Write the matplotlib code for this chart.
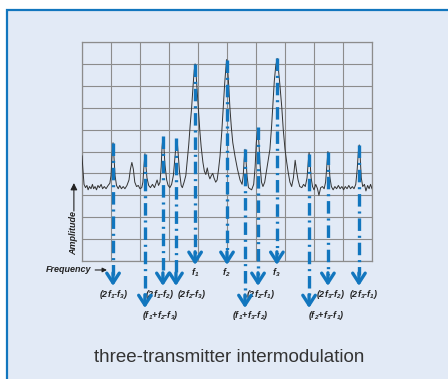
import matplotlib.pyplot as plt
from matplotlib.patches import Rectangle

plt.rcParams['font.family'] = ['Liberation Sans', 'DejaVu Sans']
plt.rcParams['mathtext.fontset'] = 'custom'
plt.rcParams['mathtext.rm'] = 'Liberation Sans:bold:italic'
plt.rcParams['mathtext.it'] = 'Liberation Sans:bold:italic'
plt.rcParams['lines.scale_dashes'] = False

BG = '#e2eaf6'
BLUE = '#1276be'
GRID = '#8c8c8c'

# spectrum analyser trace (10 x 10 divisions)
trace_x = [0.00, 0.03, 0.07, 0.12, 0.17, 0.21, 0.26, 0.31, 0.36, 0.40, 0.45, 0.50, 0.55,
           0.60, 0.66, 0.71, 0.77, 0.83, 0.90, 0.96, 1.00, 1.04, 1.07, 1.10, 1.14, 1.19,
           1.25, 1.30, 1.36, 1.42, 1.48, 1.55, 1.62, 1.67, 1.72, 1.77, 1.82, 1.88, 1.94,
           2.00, 2.06, 2.10, 2.14, 2.17, 2.20, 2.24, 2.30, 2.36, 2.43, 2.50, 2.55, 2.59,
           2.64, 2.69, 2.73, 2.76, 2.79, 2.82, 2.86, 2.92, 2.97, 3.03, 3.09, 3.15, 3.21,
           3.25, 3.28, 3.31, 3.36, 3.42, 3.46, 3.52, 3.58, 3.63, 3.68, 3.73, 3.78, 3.83,
           3.87, 3.90, 3.93, 3.97, 4.01, 4.06, 4.11, 4.17, 4.22, 4.27, 4.32, 4.37, 4.41,
           4.46, 4.51, 4.55, 4.61, 4.66, 4.71, 4.76, 4.82, 4.87, 4.92, 4.96, 4.99, 5.02,
           5.06, 5.10, 5.15, 5.20, 5.28, 5.36, 5.45, 5.52, 5.56, 5.59, 5.62, 5.65, 5.69,
           5.74, 5.79, 5.85, 5.92, 5.97, 6.01, 6.06, 6.10, 6.14, 6.19, 6.24, 6.30, 6.36,
           6.42, 6.48, 6.54, 6.59, 6.63, 6.68, 6.73, 6.77, 6.82, 6.89, 6.94, 7.00, 7.06,
           7.11, 7.17, 7.23, 7.29, 7.35, 7.40, 7.45, 7.51, 7.58, 7.64, 7.70, 7.76, 7.80,
           7.83, 7.86, 7.90, 7.95, 8.00, 8.06, 8.12, 8.17, 8.23, 8.29, 8.35, 8.40, 8.44,
           8.48, 8.51, 8.55, 8.60, 8.66, 8.72, 8.78, 8.84, 8.90, 8.96, 9.02, 9.08, 9.14,
           9.20, 9.26, 9.32, 9.38, 9.44, 9.49, 9.53, 9.56, 9.59, 9.63, 9.68, 9.74, 9.79,
           9.85, 9.90, 9.95, 10.00]
trace_y = [4.80, 4.20, 3.50, 3.35, 3.45, 3.25, 3.40, 3.30, 3.50, 3.30, 3.40, 3.25, 3.45,
           3.35, 3.50, 3.30, 3.40, 3.30, 3.45, 3.55, 3.90, 4.90, 5.40, 4.80, 3.90, 3.45,
           3.30, 3.45, 3.30, 3.40, 3.30, 3.45, 3.70, 4.20, 4.50, 4.20, 3.60, 3.40, 3.45,
           3.30, 3.35, 3.60, 4.40, 4.90, 4.40, 3.80, 3.45, 3.35, 3.50, 3.35, 3.55, 3.70,
           3.45, 3.60, 4.30, 5.20, 5.65, 5.30, 4.40, 3.70, 3.45, 3.35, 3.50, 3.90, 4.80,
           5.50, 5.55, 5.00, 4.10, 3.45, 3.35, 3.60, 3.90, 4.60, 5.30, 6.20, 7.00, 8.00,
           8.70, 9.00, 8.60, 7.80, 7.00, 6.00, 5.20, 4.50, 4.10, 3.95, 4.25, 3.90, 3.75,
           3.90, 4.00, 3.80, 3.60, 3.70, 4.20, 4.80, 5.90, 7.00, 8.10, 8.80, 9.20, 8.80,
           8.00, 7.00, 6.10, 5.40, 4.75, 4.20, 3.70, 3.50, 3.90, 4.60, 5.10, 4.70, 3.90,
           3.35, 3.30, 3.25, 3.50, 4.30, 5.40, 6.05, 5.40, 4.40, 3.60, 3.40, 3.60, 4.10,
           4.60, 5.10, 6.20, 7.30, 8.20, 8.90, 9.25, 8.80, 8.10, 7.00, 6.00, 5.10, 4.50,
           4.05, 3.60, 3.40, 3.80, 4.60, 4.10, 3.70, 3.40, 3.35, 3.50, 3.40, 3.80, 4.50,
           4.95, 4.60, 3.80, 3.40, 3.25, 3.50, 3.30, 3.00, 3.35, 3.40, 3.30, 3.60, 4.30,
           5.00, 4.60, 3.80, 3.40, 3.25, 3.40, 3.30, 3.45, 3.30, 3.40, 3.25, 3.40, 3.30,
           3.45, 3.30, 3.40, 3.30, 3.50, 4.20, 5.00, 5.30, 4.80, 3.80, 3.40, 3.50, 3.20,
           3.45, 3.30, 3.50, 3.30]

# marked products: where the peak is, how far down the arrow goes, where the label sits
prod_labels = ['(2f$_1$-f$_3$)', '(f$_1$+f$_2$-f$_3$)', '(2f$_1$-f$_2$)', '(2f$_2$-f$_3$)',
               'f$_1$', 'f$_2$', '(f$_1$+f$_3$-f$_2$)', '(2f$_2$-f$_1$)', 'f$_3$',
               '(f$_2$+f$_3$-f$_1$)', '(2f$_3$-f$_2$)', '(2f$_3$-f$_1$)']
prod_x = [1.07, 2.17, 2.79, 3.24, 3.90, 5.00, 5.62, 6.07, 6.72, 7.83, 8.48, 9.55]
prod_top = [5.4, 4.9, 5.7, 5.6, 9.0, 9.2, 5.1, 6.1, 9.25, 4.9, 5.0, 5.3]
prod_end = [-1.14, -2.15, -1.14, -1.14, -0.18, -0.18, -2.15, -1.14, -0.18, -2.15, -1.14, -1.14]
label_x = [1.10, 2.69, 2.69, 3.78, 3.90, 4.99, 5.79, 6.17, 6.71, 8.41, 8.57, 9.71]
label_y = [-1.51, -2.51, -1.51, -1.51, -0.55, -0.55, -2.51, -1.51, -0.55, -2.51, -1.51, -1.51]

fig = plt.figure(figsize=(4.48, 3.79), dpi=100)
frame = Rectangle((7 / 448, -0.2), 1.2, 1.2 - 10 / 379, transform=fig.transFigure,
                  facecolor=BG, edgecolor=BLUE, linewidth=1.6, zorder=-5)
fig.add_artist(frame)

ax = fig.add_axes([82 / 448, 1 - 261 / 379, 290 / 448, 219 / 379])
ax.set_zorder(2)
ax.set_facecolor('none')
ax.set_xlim(0, 10)
ax.set_ylim(0, 10)
ax.set_xticks(range(11))
ax.set_yticks(range(11))
ax.tick_params(length=0, labelbottom=False, labelleft=False)
ax.grid(True, color=GRID, linewidth=0.8)
for s in ax.spines.values():
    s.set_color(GRID)
    s.set_linewidth(0.9)

ax.plot(trace_x, trace_y, color='#333333', linewidth=0.7, zorder=3)

for lab, x, top, end, lx, ly in zip(prod_labels, prod_x, prod_top, prod_end, label_x, label_y):
    ax.plot([x, x], [top, end + 0.5], color=BLUE, linewidth=2.4, clip_on=False, zorder=4,
            dashes=(9, 3.5, 1.5, 3.5), solid_capstyle='butt')
    ax.annotate('', xy=(x, end), xytext=(x, end + 0.6), annotation_clip=False,
                arrowprops=dict(arrowstyle='->,head_length=0.7,head_width=0.45',
                                color=BLUE, lw=2.4, shrinkA=0, shrinkB=0), zorder=5)
    ax.text(lx, ly, lab, ha='center', va='center', fontsize=6.5, fontweight='bold',
            fontstyle='italic', color='#222222', clip_on=False)

# axis captions with their little arrows
ax.annotate('Frequency', xy=(0.86, -0.41), xytext=(0.31, -0.41), ha='right', va='center',
            fontsize=6.5, fontweight='bold', fontstyle='italic', color='#222222',
            annotation_clip=False,
            arrowprops=dict(arrowstyle='-|>,head_length=0.4,head_width=0.2', color='#222222',
                            lw=0.8, shrinkA=1, shrinkB=0))
ax.text(-0.28, 1.30, 'Amplitude', rotation=90, ha='center', va='center', fontsize=6.5,
        fontweight='bold', fontstyle='italic', color='#222222', clip_on=False)
ax.annotate('', xy=(-0.28, 3.56), xytext=(-0.28, 2.28), annotation_clip=False,
            arrowprops=dict(arrowstyle='-|>,head_length=0.4,head_width=0.2', color='#222222',
                            lw=0.8, shrinkA=0, shrinkB=0))

fig.text(229 / 448, 1 - 357 / 379, 'three-transmitter intermodulation', ha='center', va='center',
         fontsize=13.5, color='#333333')

fig.savefig('out.png', dpi=100)
